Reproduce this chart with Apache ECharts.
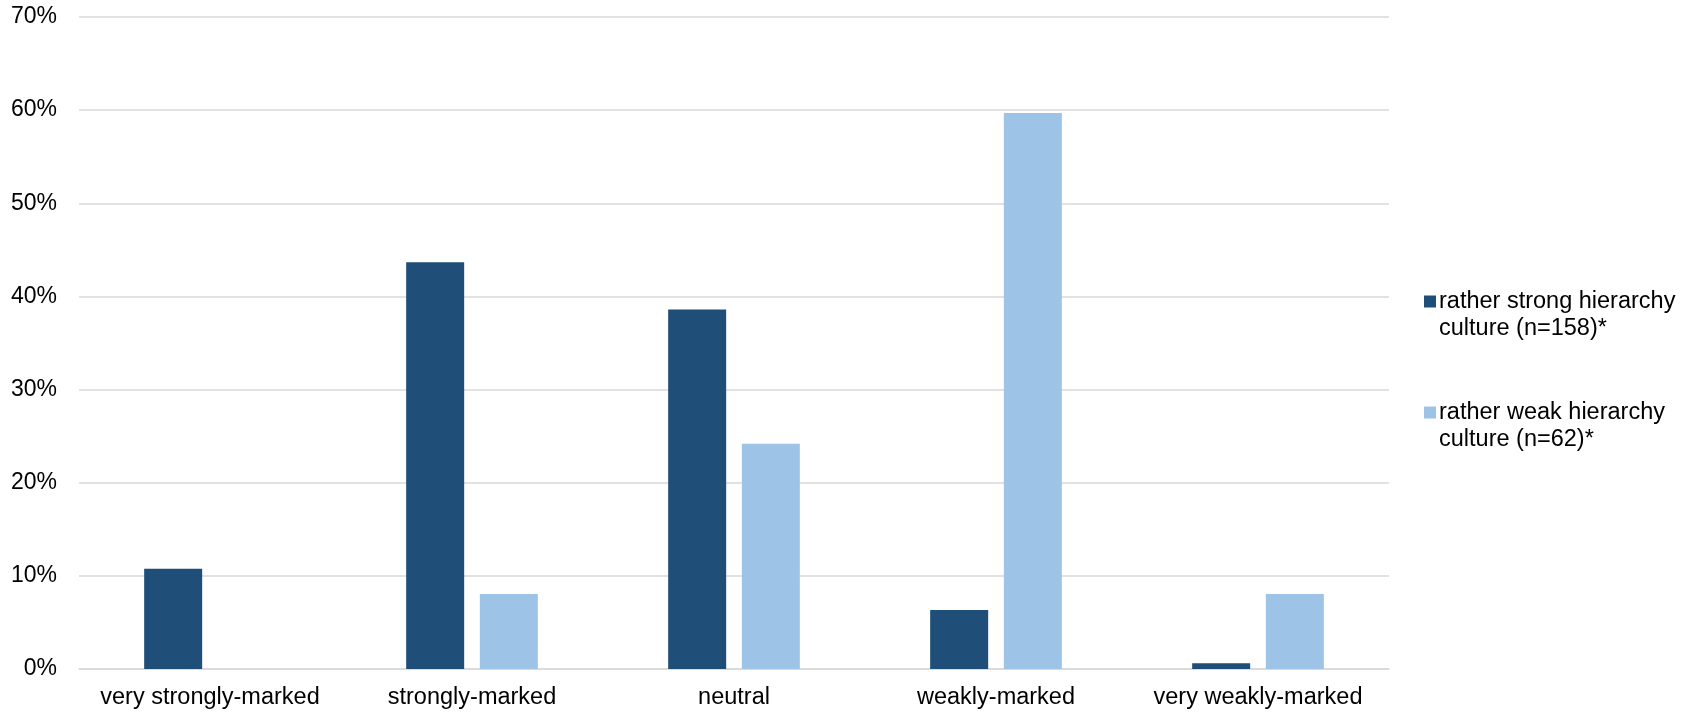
<!DOCTYPE html>
<html>
<head>
<meta charset="utf-8">
<title>Hierarchy culture</title>
<script src="https://cdn.jsdelivr.net/npm/echarts@6/dist/echarts.min.js"></script>
<style>
  html, body { margin: 0; padding: 0; background: #ffffff; }
  #chart { width: 1694px; height: 712px; }
</style>
</head>
<body>
<div id="chart"></div>
<script>
// Categories on the x axis
const categories = ['very strongly-marked', 'strongly-marked', 'neutral', 'weakly-marked', 'very weakly-marked'];

// Share of respondents per category, in percent
const strongHierarchy = [10.76, 43.67, 38.61, 6.33, 0.63];
const weakHierarchy = [0, 8.06, 24.19, 59.68, 8.06];

// Series names (two-line legend entries)
const seriesNames = [
  'rather strong hierarchy\nculture (n=158)*',
  'rather weak hierarchy\nculture (n=62)*'
];

// Value axis range
const yMin = 0;
const yMax = 70;
const yStep = 10;

const fontFamily = 'Arial, "Liberation Sans", sans-serif';
const textColor = '#000000';
const gridColor = '#d9d9d9';

// Legend marker: a 12px square sitting at the top of a taller (invisible) box,
// so that it lines up with the first line of the two-line legend text.
const legendIcon = 'path://M0,0H12V12H0Z M0,39L0,39';

const chart = echarts.init(document.getElementById('chart'), null, { renderer: 'canvas' });

chart.setOption({
  backgroundColor: '#ffffff',
  animation: false,
  grid: {
    left: 79,
    right: 305,
    top: 17,
    bottom: 43,
    containLabel: false
  },
  legend: {
    orient: 'vertical',
    left: 1419,
    top: 283,
    itemWidth: 12,
    itemHeight: 39,
    itemGap: 57,
    icon: legendIcon,
    itemStyle: { borderWidth: 0 },
    textStyle: {
      fontFamily: fontFamily,
      fontSize: 23.5,
      color: textColor,
      lineHeight: 27,
      padding: [0, 0, 0, -2]
    },
    data: seriesNames
  },
  xAxis: {
    type: 'category',
    data: categories,
    axisTick: { show: false },
    axisLine: { show: true, lineStyle: { color: gridColor, width: 1.5 } },
    axisLabel: {
      interval: 0,
      color: textColor,
      fontFamily: fontFamily,
      fontSize: 23.5,
      margin: 17
    }
  },
  yAxis: {
    type: 'value',
    min: yMin,
    max: yMax,
    interval: yStep,
    axisLine: { show: false },
    axisTick: { show: false },
    splitLine: { show: true, lineStyle: { color: gridColor, width: 1.5 } },
    axisLabel: {
      color: textColor,
      fontFamily: fontFamily,
      fontSize: 23,
      margin: 22,
      formatter: '{value}%'
    }
  },
  series: [
    {
      name: seriesNames[0],
      type: 'bar',
      data: strongHierarchy,
      barWidth: 58,
      barGap: '27%',
      itemStyle: { color: '#1f4e79' }
    },
    {
      name: seriesNames[1],
      type: 'bar',
      data: weakHierarchy,
      barWidth: 58,
      barGap: '27%',
      itemStyle: { color: '#9dc3e6' }
    }
  ]
});
</script>
</body>
</html>
